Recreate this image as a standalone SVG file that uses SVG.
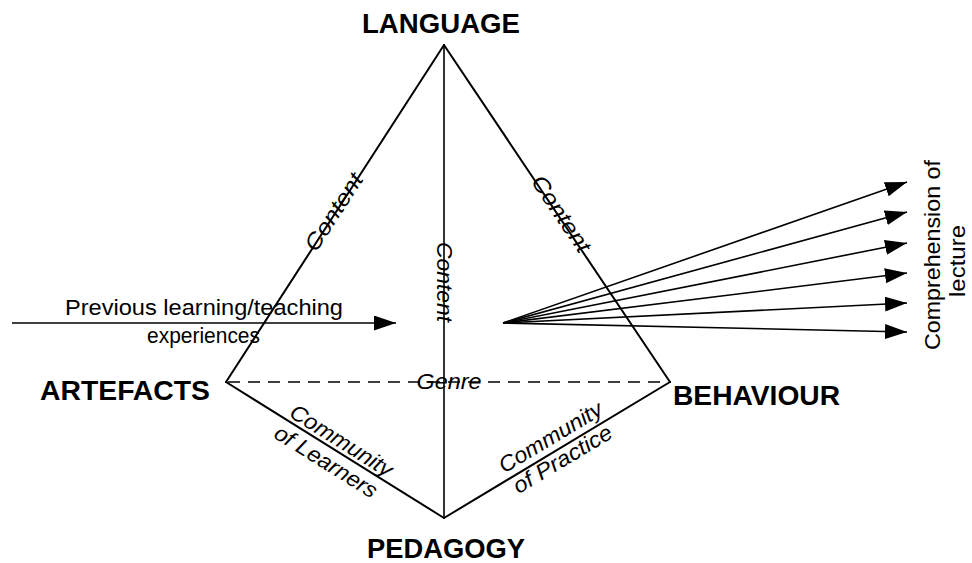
<svg xmlns="http://www.w3.org/2000/svg" width="972" height="563" viewBox="0 0 972 563">
<style>
.edge{stroke:#000;stroke-width:2;fill:none;stroke-linecap:round}
.thin{stroke:#000;stroke-width:1.6;fill:none}
.dash{stroke:#000;stroke-width:1.6;fill:none;stroke-dasharray:12 8}
.arr{stroke:#000;stroke-width:1.6;fill:none;marker-end:url(#ah)}
.title{font-family:"Liberation Sans",Arial,sans-serif;font-weight:bold;font-size:27px;fill:#000}
.lbl{font-family:"Liberation Sans",Arial,sans-serif;font-size:22px;fill:#000}
.it{font-family:"Liberation Sans",Arial,sans-serif;font-size:22px;font-style:italic;fill:#000}
</style>
<defs>
<marker id="ah" markerUnits="userSpaceOnUse" markerWidth="24" markerHeight="16" refX="22" refY="7.5" orient="auto">
<path d="M0,0 L22,7.5 L0,15 z" fill="#000"/>
</marker>
</defs>
<rect width="972" height="563" fill="#fff"/>
<g id="connectors">
<line class="edge" x1="226" y1="382" x2="444" y2="45"/>
<line class="edge" x1="444" y1="45" x2="670" y2="382"/>
<line class="edge" x1="226" y1="382" x2="444" y2="518"/>
<line class="edge" x1="444" y1="518" x2="670" y2="382"/>
<line class="thin" x1="444" y1="45" x2="444" y2="518"/>
<line class="dash" x1="228" y1="382" x2="668" y2="382"/>
<line class="arr" x1="12" y1="323" x2="396" y2="323"/>
<line class="arr" x1="503" y1="323" x2="907" y2="182"/>
<line class="arr" x1="503" y1="323" x2="907" y2="212"/>
<line class="arr" x1="503" y1="323" x2="907" y2="243"/>
<line class="arr" x1="503" y1="323" x2="907" y2="273"/>
<line class="arr" x1="503" y1="323" x2="907" y2="303"/>
<line class="arr" x1="503" y1="323" x2="907" y2="332"/>
</g>
<g id="edge-labels">
<text class="it" text-anchor="middle" textLength="88" lengthAdjust="spacingAndGlyphs" transform="translate(340,216) rotate(-57)">Content</text>
<text class="it" text-anchor="middle" textLength="88" lengthAdjust="spacingAndGlyphs" transform="translate(555,218) rotate(56)">Content</text>
<text class="it" text-anchor="middle" textLength="80" lengthAdjust="spacingAndGlyphs" transform="translate(437,282) rotate(90)">Content</text>
<text class="it" x="449" y="389" text-anchor="middle" textLength="65" lengthAdjust="spacingAndGlyphs">Genre</text>
<g transform="translate(226,382) rotate(32)">
<text class="it" x="129" y="-4" text-anchor="middle" textLength="117" lengthAdjust="spacingAndGlyphs">Community</text>
<text class="it" x="127" y="22" text-anchor="middle" textLength="117" lengthAdjust="spacingAndGlyphs">of Learners</text>
</g>
<g transform="translate(444,518) rotate(-31)">
<text class="it" x="133" y="-7" text-anchor="middle" textLength="117" lengthAdjust="spacingAndGlyphs">Community</text>
<text class="it" x="132" y="18" text-anchor="middle" textLength="112" lengthAdjust="spacingAndGlyphs">of Practice</text>
</g>
</g>
<g id="language"><text class="title" x="441" y="33" text-anchor="middle" textLength="158" lengthAdjust="spacingAndGlyphs">LANGUAGE</text></g>
<g id="artefacts"><text class="title" x="40" y="400" textLength="170" lengthAdjust="spacingAndGlyphs">ARTEFACTS</text></g>
<g id="behaviour"><text class="title" x="673" y="405" textLength="167" lengthAdjust="spacingAndGlyphs">BEHAVIOUR</text></g>
<g id="pedagogy"><text class="title" x="367" y="558" textLength="158" lengthAdjust="spacingAndGlyphs">PEDAGOGY</text></g>
<g id="previous">
<text class="lbl" x="65" y="315" textLength="278" lengthAdjust="spacingAndGlyphs">Previous learning/teaching</text>
<text class="lbl" x="147" y="343" textLength="113" lengthAdjust="spacingAndGlyphs">experiences</text>
</g>
<g id="comprehension">
<text class="lbl" text-anchor="middle" textLength="190" lengthAdjust="spacingAndGlyphs" transform="translate(940,255) rotate(-90)">Comprehension of</text>
<text class="lbl" text-anchor="middle" textLength="72" lengthAdjust="spacingAndGlyphs" transform="translate(965,261) rotate(-90)">lecture</text>
</g>
</svg>
